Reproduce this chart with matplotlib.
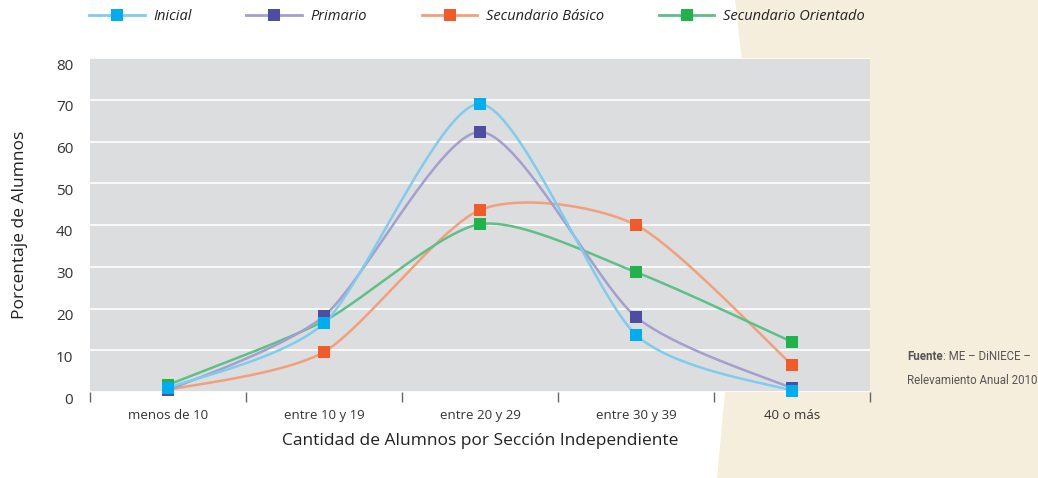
import numpy as np
import matplotlib
matplotlib.use("Agg")
import matplotlib.pyplot as plt
from matplotlib.patches import Polygon
from matplotlib.lines import Line2D
import matplotlib.transforms as mtransforms

categories = ["menos de 10", "entre 10 y 19", "entre 20 y 29", "entre 30 y 39", "40 o más"]
inicial = [1.0, 16.5, 69.0, 13.7, 0.3]
primario = [0.4, 18.2, 62.3, 18.0, 0.9]
sec_basico = [0.5, 9.6, 43.6, 40.0, 6.5]
sec_orientado = [1.7, 17.0, 40.2, 28.7, 12.0]
series_names = ["Inicial", "Primario", "Secundario Básico", "Secundario Orientado"]
yticks = [0, 10, 20, 30, 40, 50, 60, 70, 80]

line_colors = ["#7fcdec", "#a39fcf", "#f2a07c", "#5fbf88"]
marker_colors = ["#00aeef", "#4f4da1", "#f15a29", "#22b24c"]

plt.rcParams['font.family'] = ['Open Sans', 'DejaVu Sans']

def smooth(x, y, n=40, k=0.125):
    x = np.asarray(x, float); y = np.asarray(y, float)
    P = np.column_stack([x, y])
    out = []
    for i in range(len(P) - 1):
        p0 = P[i - 1] if i > 0 else P[i]
        p1 = P[i]; p2 = P[i + 1]
        p3 = P[i + 2] if i + 2 < len(P) else P[i + 1]
        c1 = p1 + (p2 - p0) * k
        c2 = p2 - (p3 - p1) * k
        t = np.linspace(0, 1, n)[:, None]
        seg = ((1 - t) ** 3) * p1 + 3 * ((1 - t) ** 2) * t * c1 + 3 * (1 - t) * t ** 2 * c2 + t ** 3 * p2
        out.append(seg if i == 0 else seg[1:])
    s = np.vstack(out)
    return s[:, 0], s[:, 1]

fig = plt.figure(figsize=(10.38, 4.78), dpi=100)
fig.patch.set_facecolor("white")

# beige background shape
bg = Polygon([[735 / 1038, 1], [1, 1], [1, 0], [717 / 1038, 0], [750 / 1038, 1 - 130 / 478]],
             closed=True, transform=fig.transFigure, facecolor="#f6eedc", edgecolor="none", zorder=-10)
fig.patches.append(bg)

ax = fig.add_axes([90 / 1038, 1 - 392 / 478, 780 / 1038, 334 / 478])
ax.set_zorder(1)
ax.set_facecolor("#dcdddf")
ax.set_xlim(0, 5)
ax.set_ylim(0, 80)
ax.set_yticks(yticks)
ax.set_yticklabels([str(v) for v in yticks], fontsize=11, color="#333333")
ax.yaxis.grid(True, color="white", linewidth=1.2)
ax.set_axisbelow(True)
ax.tick_params(axis="y", length=0, pad=12)
offset = mtransforms.ScaledTranslation(0, -6 / 100, fig.dpi_scale_trans)
for lab in ax.get_yticklabels():
    lab.set_transform(lab.get_transform() + offset)

ax.set_xticks(np.arange(0, 6))
ax.set_xticklabels([])
ax.set_xticks(np.arange(5) + 0.5, minor=True)
ax.set_xticklabels(categories, minor=True, fontsize=9.5, color="#333333")
ax.tick_params(axis="x", which="major", length=7, direction="out", color="#666666", width=1)
ax.tick_params(axis="x", which="minor", length=0, pad=12)
for s in ax.spines.values():
    s.set_visible(False)

xs = np.arange(5) + 0.5
all_series = [inicial, primario, sec_basico, sec_orientado]
order = [2, 3, 1, 0]
for i in order:
    vals = all_series[i]
    sx, sy = smooth(xs, vals)
    ax.plot(sx, sy, color=line_colors[i], lw=1.8, zorder=3, clip_on=False)
for i in order:
    vals = all_series[i]
    ax.plot(xs, vals, ls="none", marker="s", markersize=8.5, color=marker_colors[i],
            markeredgewidth=0, zorder=4, clip_on=False)

ax.set_ylabel("Porcentaje de Alumnos", fontsize=12.5, color="#222222", labelpad=20)
ax.set_xlabel("Cantidad de Alumnos por Sección Independiente", fontsize=12.5, color="#222222", labelpad=8)

handles = [Line2D([], [], color=line_colors[i], lw=2, marker="s", markersize=9,
                  markerfacecolor=marker_colors[i], markeredgewidth=0) for i in range(4)]
fig.legend(handles, series_names, loc="center left", bbox_to_anchor=(76 / 1038, 1 - 17 / 478),
           ncol=4, frameon=False, handlelength=3.8, handletextpad=0.6, columnspacing=3.75,
           prop={"style": "italic", "size": 10.5}, labelcolor="#222222")

fam = ["Roboto", "DejaVu Sans"]
t1 = fig.text(907 / 1038, 1 - 357 / 478, "Fuente", fontsize=8.3, fontweight="bold", color="#555555",
              family=fam, va="center")
ax.annotate(": ME – DiNIECE –", xy=(1, 0.5), xycoords=t1, va="center", ha="left",
            fontsize=8.3, color="#555555", family=fam, annotation_clip=False)
fig.text(907 / 1038, 1 - 381 / 478, "Relevamiento Anual 2010", fontsize=8.3, color="#555555",
         family=fam, va="center")

fig.savefig("out.png", dpi=100)
